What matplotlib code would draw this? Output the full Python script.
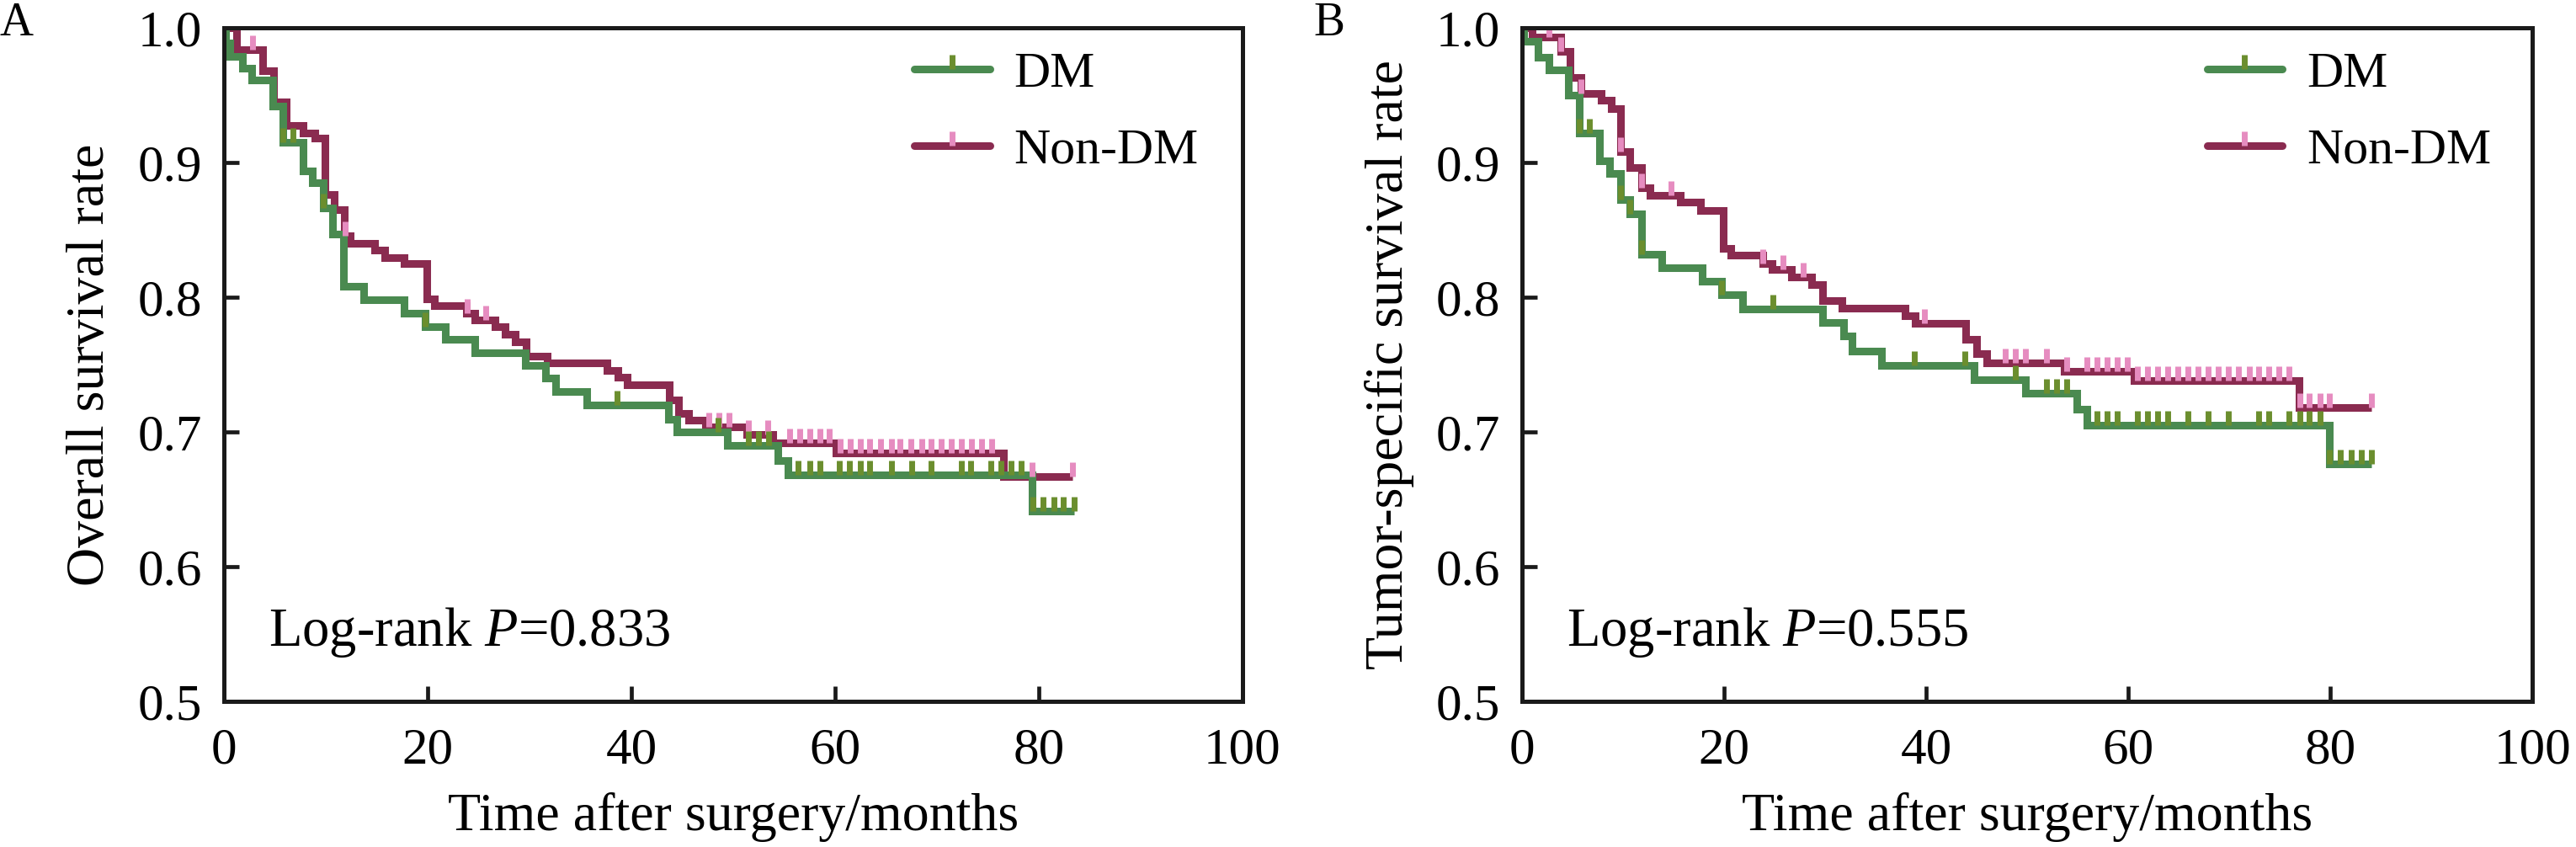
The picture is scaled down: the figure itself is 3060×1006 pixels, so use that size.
import numpy as np
import matplotlib
matplotlib.use('Agg')
import matplotlib.pyplot as plt
from matplotlib.lines import Line2D

plt.rcParams['font.family'] = ['Liberation Serif', 'DejaVu Serif']
plt.rcParams['mathtext.fontset'] = 'custom'
plt.rcParams['mathtext.rm'] = 'Liberation Serif'
plt.rcParams['mathtext.it'] = 'Liberation Serif:italic'

# ---------------- data ----------------
x_ticks = [0, 20, 40, 60, 80, 100]
y_ticks = [0.5, 0.6, 0.7, 0.8, 0.9, 1.0]
x_label = 'Time after surgery/months'
group_labels = ['DM', 'Non-DM']
panel_letters = ['A', 'B']
y_labels = ['Overall survival rate', 'Tumor-specific survival rate']
p_values = ['0.833', '0.555']

# Panel A (overall survival)
a_dm_t = [0.2, 0.6, 1.85, 2.75, 4.8, 5.8, 7.8, 8.7, 9.75, 10.7, 11.7, 13.7, 17.7, 19.75, 21.7,
          24.6, 29.6, 31.6, 32.6, 35.6, 43.6, 44.5, 49.4, 54.4, 55.4, 79.3]
a_dm_s = [0.989, 0.979, 0.970, 0.961, 0.942, 0.915, 0.894, 0.885, 0.866, 0.847, 0.808, 0.798, 0.788,
          0.778, 0.769, 0.759, 0.7495, 0.740, 0.730, 0.720, 0.7095, 0.700, 0.690, 0.679, 0.668, 0.641]
a_dm_c = [5.8, 6.75, 9.75, 19.75, 38.6, 48.5, 51.5, 52.5, 53.5, 56.4, 57.5, 58.5, 60.4, 61.4, 62.45,
          63.4, 65.5, 67.5, 69.4, 72.4, 73.3, 75.3, 76.3, 77.3, 78.3, 79.4, 80.4, 81.5, 82.4, 83.5]

a_non_t = [1.2, 3.8, 4.9, 6.1, 7.8, 8.9, 9.9, 10.85, 11.85, 12.4, 14.8, 15.75, 17.7, 19.9, 20.7,
           23.8, 24.6, 26.6, 27.6, 28.6, 29.7, 31.7, 37.6, 38.7, 39.6, 43.7, 44.6, 45.6, 47.3, 51.3,
           53.9, 60.1, 76.5]
a_non_s = [0.984, 0.968, 0.945, 0.9275, 0.922, 0.918, 0.876, 0.865, 0.8455, 0.840, 0.835, 0.8295,
           0.825, 0.799, 0.7936, 0.788, 0.783, 0.778, 0.7725, 0.767, 0.756, 0.751, 0.7455, 0.7405,
           0.735, 0.724, 0.7136, 0.7088, 0.7036, 0.698, 0.692, 0.6846, 0.6668]
a_non_c = [2.8, 11.9, 23.85, 25.7, 47.6, 48.6, 49.6, 51.5, 53.4, 55.5, 56.5, 57.5, 58.5, 59.4, 60.5,
           61.5, 62.5, 63.4, 64.5, 65.5, 66.4, 67.4, 68.5, 69.4, 70.4, 71.4, 72.4, 73.4, 74.4, 75.4,
           79.3, 83.3]

# Panel B (tumor-specific survival)
b_dm_t = [0.2, 1.55, 2.7, 4.6, 5.7, 7.7, 8.7, 9.75, 10.7, 11.8, 13.8, 17.8, 19.75, 21.8, 29.75,
          31.8, 32.7, 35.6, 44.75, 49.8, 54.9, 55.9, 79.9]
b_dm_s = [0.990, 0.978, 0.969, 0.950, 0.922, 0.901, 0.892, 0.8725, 0.862, 0.832, 0.822, 0.812,
          0.802, 0.7915, 0.7815, 0.771, 0.760, 0.7495, 0.739, 0.7288, 0.717, 0.7047, 0.676]
b_dm_c = [5.7, 6.7, 9.75, 10.7, 11.8, 19.75, 24.8, 38.8, 43.8, 48.8, 51.9, 52.9, 53.9, 56.9, 57.9,
          58.9, 60.9, 61.9, 62.9, 63.9, 65.9, 67.9, 69.9, 72.9, 73.9, 75.9, 77.0, 77.9, 79.0, 79.9,
          81.0, 82.1, 83.1, 84.1]

b_non_t = [1.0, 3.8, 4.75, 5.8, 7.8, 8.8, 9.75, 10.7, 11.8, 12.7, 15.7, 17.7, 19.9, 20.7, 23.8,
           24.75, 26.7, 28.7, 29.75, 31.7, 37.9, 38.9, 43.9, 45.0, 46.0, 53.7, 60.6, 76.9]
b_non_s = [0.993, 0.9826, 0.963, 0.9514, 0.946, 0.940, 0.908, 0.8964, 0.881, 0.8756, 0.8704,
           0.8646, 0.836, 0.831, 0.8251, 0.8206, 0.8148, 0.8092, 0.7977, 0.7919, 0.7862, 0.7805,
           0.7687, 0.7583, 0.751, 0.7447, 0.738, 0.718]
b_non_c = [2.7, 3.8, 5.8, 9.75, 11.8, 14.75, 23.8, 25.8, 27.8, 39.8, 47.8, 48.8, 49.8, 51.9, 53.9,
           55.9, 56.9, 57.9, 58.9, 59.9, 60.9, 61.9, 62.9, 63.9, 64.9, 65.9, 66.9, 67.9, 68.9, 69.9,
           70.9, 72.0, 72.9, 73.9, 74.9, 75.9, 77.0, 77.9, 79.0, 79.9, 84.1]

# ---------------- style ----------------
GREEN = '#4a8a50'
OLIVE = '#6b8e2e'
MAROON = '#8a2b50'
PINK = '#e68cc0'
SPINE = '#1a1a1a'
UP = [(0, 0), (0, 1)]   # censor tick pointing upward
LW = 6.5
MS = 24.5
MEW = 5.0


def km_xy(t, s, end):
    x = [0.0] + list(t) + [end]
    y = [1.0] + list(s) + [s[-1]]
    return x, y


def level_at(t, s, c):
    idx = np.searchsorted(np.asarray(t), np.asarray(c), side='right')
    return np.asarray([1.0] + list(s))[idx]


def draw_panel(ax, dm, non, ylabel, pval):
    dm_t, dm_s, dm_c = dm
    non_t, non_s, non_c = non
    line_kw = dict(lw=LW, drawstyle='steps-post', solid_joinstyle='miter',
                   solid_capstyle='butt')
    ax.plot(*km_xy(non_t, non_s, max(non_c)), color=MAROON, zorder=2.0, **line_kw)
    ax.plot(*km_xy(dm_t, dm_s, max(dm_c)), color=GREEN, zorder=2.1, **line_kw)
    ax.plot(non_c, level_at(non_t, non_s, non_c), ls='none', marker=UP, ms=MS,
            mew=MEW, mec=PINK, zorder=2.2)
    ax.plot(dm_c, level_at(dm_t, dm_s, dm_c), ls='none', marker=UP, ms=MS,
            mew=MEW, mec=OLIVE, zorder=2.3)

    ax.set_xlim(x_ticks[0], x_ticks[-1])
    ax.set_ylim(y_ticks[0], y_ticks[-1])
    ax.set_xticks(x_ticks)
    ax.set_yticks(y_ticks)
    ax.set_yticklabels([f'{v:.1f}' for v in y_ticks])
    ax.tick_params(axis='both', direction='in', length=13, width=3.4, color=SPINE,
                   labelsize=44)
    ax.tick_params(axis='x', pad=22)
    ax.tick_params(axis='y', pad=18.5)
    for sp in ax.spines.values():
        sp.set_linewidth(3.6)
        sp.set_color(SPINE)

    ax.set_xlabel(x_label, fontsize=46)
    ax.xaxis.set_label_coords(0.5, -0.135)
    ax.set_ylabel(ylabel, fontsize=46)
    ax.yaxis.set_label_coords(-0.107, 0.5)

    ax.text(4.4, 0.541, r'Log-rank $\mathit{P}$=' + pval, fontsize=46.5,
            ha='left', va='baseline')

    handles = [
        Line2D([], [], color=GREEN, lw=LW, marker=UP, ms=MS, mew=MEW, mec=OLIVE,
               solid_capstyle='round'),
        Line2D([], [], color=MAROON, lw=LW, marker=UP, ms=MS, mew=MEW, mec=PINK,
               solid_capstyle='round'),
    ]
    ax.legend(handles, group_labels, loc='upper left', bbox_to_anchor=(0.678, 0.965),
              frameon=False, fontsize=43, handlelength=1.5, handletextpad=0.48,
              borderaxespad=0, borderpad=0, labelspacing=0.6, numpoints=1)


fig = plt.figure(figsize=(30.6, 10.06), dpi=100)
ax_a = fig.add_axes([266 / 3060, 1 - 833 / 1006, 1210 / 3060, 800 / 1006])
ax_b = fig.add_axes([1808 / 3060, 1 - 833 / 1006, 1200 / 3060, 800 / 1006])

draw_panel(ax_a, (a_dm_t, a_dm_s, a_dm_c), (a_non_t, a_non_s, a_non_c), y_labels[0], p_values[0])
draw_panel(ax_b, (b_dm_t, b_dm_s, b_dm_c), (b_non_t, b_non_s, b_non_c), y_labels[1], p_values[1])

fig.text(0.0, 1 - 2 / 1006, panel_letters[0], fontsize=40, ha='left', va='top')
fig.text(1560 / 3060, 1 - 2 / 1006, panel_letters[1], fontsize=40, ha='left', va='top')

fig.savefig('out.png', dpi=100, facecolor='white')
